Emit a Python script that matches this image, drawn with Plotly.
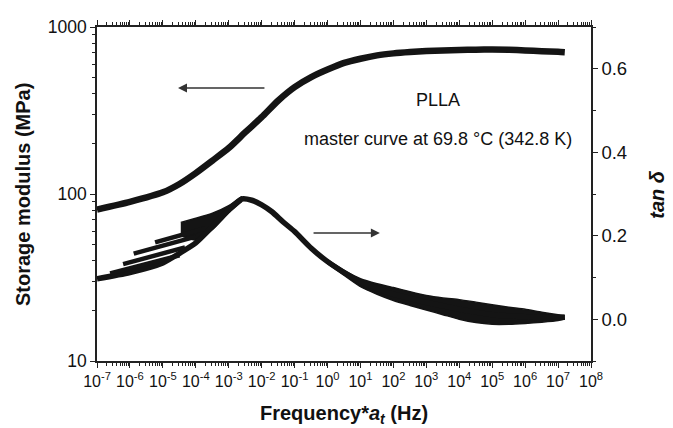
import plotly.graph_objects as go

# ---------------- data ----------------
freq_E = [1e-7, 1e-6, 1e-5, 3.2e-5, 1e-4, 3.2e-4, 1e-3, 3.2e-3, 1e-2, 3.2e-2, 0.1, 0.32,
          1, 3.2, 10, 32, 100, 320, 1e3, 3.2e3, 1e4, 3.2e4, 1e5, 3.2e5, 1e6, 3.2e6, 1e7, 1.6e7]
storage_MPa = [80.7, 89.7, 102.3, 114.8, 133.4, 158.5, 188.4, 234.4, 288.4, 363.1, 436.5, 501.2,
               555.9, 609.5, 645.7, 676.1, 695.0, 707.9, 717.8, 724.4, 727.8, 731.1, 732.8, 731.0,
               724.0, 716.0, 710.0, 706.0]

freq_T = [1e-7, 1e-6, 1e-5, 3.2e-5, 1e-4, 3.2e-4, 1e-3, 2.5e-3, 5e-3, 1e-2, 2e-2, 4.5e-2,
          0.1, 0.32, 1, 3.2, 10, 32, 100, 320, 1e3, 3.2e3, 1e4, 3.2e4, 1e5, 3.2e5, 1e6, 3.2e6, 1e7, 1.6e7]
tan_delta = [0.097, 0.112, 0.135, 0.158, 0.183, 0.222, 0.262, 0.288, 0.285, 0.274, 0.258, 0.233,
             0.210, 0.170, 0.138, 0.112, 0.090, 0.074, 0.060, 0.050, 0.040, 0.032, 0.024, 0.017,
             0.011, 0.008, 0.006, 0.004, 0.004, 0.005]

# scatter band of the tan delta data at high frequency (upper / lower edge)
freq_band = [1, 3.2, 10, 32, 100, 320, 1e3, 3.2e3, 1e4, 3.2e4, 1e5, 3.2e5, 1e6, 3.2e6, 1e7, 1.6e7]
tan_band_hi = [0.143, 0.117, 0.097, 0.085, 0.076, 0.066, 0.057, 0.051, 0.047, 0.041, 0.035, 0.029, 0.024, 0.017, 0.011, 0.009]
tan_band_lo = [0.133, 0.105, 0.078, 0.060, 0.045, 0.033, 0.022, 0.011, 0.000, -0.008, -0.012, -0.012, -0.010, -0.007, -0.003, 0.001]

# overlapping low-frequency bundle near the loss peak (upper / lower edge)
freq_bundle = [3.5e-5, 1e-4, 3.2e-4, 1e-3, 2.5e-3]
tan_bundle_hi = [0.232, 0.242, 0.254, 0.272, 0.294]
tan_bundle_lo = [0.200, 0.190, 0.215, 0.255, 0.282]

# individual temperature segments fanning out at low frequency
branch_freq = [[2.5e-7, 3.2e-5], [6.2e-7, 4.7e-5], [1.3e-6, 1e-4], [5.8e-6, 2e-4]]
branch_tan = [[0.110, 0.153], [0.132, 0.172], [0.157, 0.198], [0.184, 0.218]]

x_tickvals = [1e-7, 1e-6, 1e-5, 1e-4, 1e-3, 1e-2, 1e-1, 1e0, 1e1, 1e2, 1e3, 1e4, 1e5, 1e6, 1e7, 1e8]
x_ticktext = ["10<sup>-7</sup>", "10<sup>-6</sup>", "10<sup>-5</sup>", "10<sup>-4</sup>",
              "10<sup>-3</sup>", "10<sup>-2</sup>", "10<sup>-1</sup>", "10<sup>0</sup>",
              "10<sup>1</sup>", "10<sup>2</sup>", "10<sup>3</sup>", "10<sup>4</sup>",
              "10<sup>5</sup>", "10<sup>6</sup>", "10<sup>7</sup>", "10<sup>8</sup>"]
y_tickvals = [10, 100, 1000]
y2_tickvals = [0.0, 0.2, 0.4, 0.6]

INK = "#141414"
FONT = "Liberation Sans, Arial, sans-serif"

fig = go.Figure()

# storage modulus
fig.add_trace(go.Scatter(x=freq_E, y=storage_MPa, mode="lines",
                         line=dict(color=INK, width=6.5, shape="spline", smoothing=0.6),
                         showlegend=False, hoverinfo="skip"))

# tan delta band (fill between edges) at high frequency
fig.add_trace(go.Scatter(x=freq_band, y=tan_band_lo, mode="lines", yaxis="y2",
                         line=dict(color=INK, width=1.5, shape="spline", smoothing=0.5),
                         showlegend=False, hoverinfo="skip"))
fig.add_trace(go.Scatter(x=freq_band, y=tan_band_hi, mode="lines", yaxis="y2", fill="tonexty",
                         fillcolor=INK, line=dict(color=INK, width=1.5, shape="spline", smoothing=0.5),
                         showlegend=False, hoverinfo="skip"))

# low-frequency bundle
fig.add_trace(go.Scatter(x=freq_bundle, y=tan_bundle_lo, mode="lines", yaxis="y2",
                         line=dict(color=INK, width=1.5, shape="spline", smoothing=0.5),
                         showlegend=False, hoverinfo="skip"))
fig.add_trace(go.Scatter(x=freq_bundle, y=tan_bundle_hi, mode="lines", yaxis="y2", fill="tonexty",
                         fillcolor=INK, line=dict(color=INK, width=1.5, shape="spline", smoothing=0.5),
                         showlegend=False, hoverinfo="skip"))

# tan delta main
fig.add_trace(go.Scatter(x=freq_T, y=tan_delta, mode="lines", yaxis="y2",
                         line=dict(color=INK, width=5.5, shape="spline", smoothing=0.6),
                         showlegend=False, hoverinfo="skip"))

for bf, bt in zip(branch_freq, branch_tan):
    fig.add_trace(go.Scatter(x=bf, y=bt, mode="lines", yaxis="y2",
                             line=dict(color=INK, width=4.5),
                             showlegend=False, hoverinfo="skip"))

axis_common = dict(showline=True, linecolor="#222", linewidth=1.5, showgrid=False, zeroline=False,
                   ticks="outside", tickcolor="#222", tickwidth=1.2)

# page body has an 8px default margin -> figure is drawn 8px smaller so it fits the 673x428 window
fig.update_layout(
    width=665, height=420,
    margin=dict(l=89, r=82, t=9, b=67),
    paper_bgcolor="white", plot_bgcolor="white",
    font=dict(family=FONT, color="#111"),
    xaxis=dict(type="log", range=[-7, 8], tickvals=x_tickvals, ticktext=x_ticktext,
               tickangle=0, ticklen=5, tickfont=dict(size=16), mirror="ticks",
               minor=dict(ticks="outside", ticklen=3, dtick="D1", tickcolor="#222", tickwidth=1),
               **axis_common),
    yaxis=dict(type="log", range=[1, 3], tickvals=y_tickvals, ticktext=["10", "100", "1000"],
               ticklen=5, tickfont=dict(size=17.5),
               minor=dict(ticks="outside", ticklen=3, dtick="D1", tickcolor="#222", tickwidth=1),
               **axis_common),
    yaxis2=dict(overlaying="y", side="right", range=[-0.1, 0.7], tickvals=y2_tickvals,
                tickformat=".1f", ticklen=5, tickfont=dict(size=18.5),
                minor=dict(ticks="outside", ticklen=3, dtick=0.1, tickcolor="#222", tickwidth=1),
                **axis_common),
    showlegend=False,
)

annots = [
    dict(text="<b>Storage modulus (MPa)</b>", xref="paper", yref="paper", x=-0.1498, y=0.5,
         textangle=-90, showarrow=False, font=dict(size=20), xanchor="center", yanchor="middle"),
    dict(text="<b><i>tan δ</i></b>", xref="paper", yref="paper", x=1.133, y=0.5,
         textangle=-90, showarrow=False, font=dict(size=20), xanchor="center", yanchor="middle"),
    dict(text="<b>Frequency*<i>a</i><sub><i>t</i></sub> (Hz)</b>", xref="paper", yref="paper",
         x=0.499, y=-0.160, showarrow=False, font=dict(size=20), xanchor="center", yanchor="middle"),
    dict(text="PLLA", xref="paper", yref="paper", x=0.690, y=0.782, showarrow=False,
         font=dict(size=18), xanchor="center", yanchor="middle"),
    dict(text="master curve at 69.8 °C (342.8 K)", xref="paper", yref="paper", x=0.691, y=0.666,
         showarrow=False, font=dict(size=18), xanchor="center", yanchor="middle"),
    # arrows
    dict(x=-4.54, y=2.634, xref="x", yref="y", ax=-1.87, ay=2.634, axref="x", ayref="y",
         text="", showarrow=True, arrowhead=2, arrowsize=1.2, arrowwidth=1.5, arrowcolor="#333"),
    dict(x=1.59, y=1.767, xref="x", yref="y", ax=-0.47, ay=1.767, axref="x", ayref="y",
         text="", showarrow=True, arrowhead=2, arrowsize=1.2, arrowwidth=1.5, arrowcolor="#333"),
]
fig.update_layout(annotations=annots)

fig.write_html("out.html")
